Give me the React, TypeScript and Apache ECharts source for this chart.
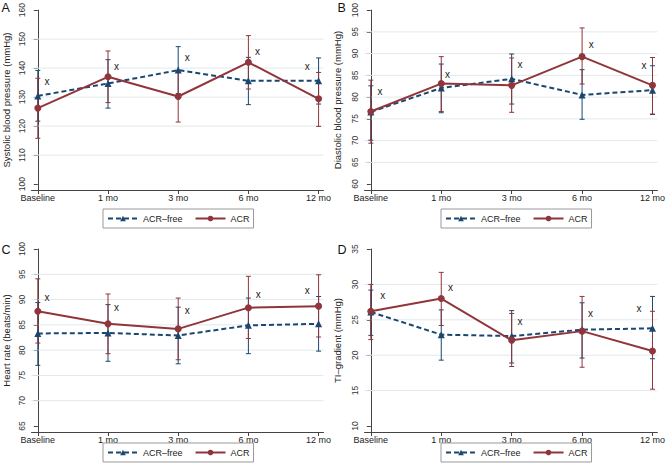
import React, { useEffect, useRef } from "react";
import * as echarts from "echarts";

const categories = ["Baseline", "1 mo", "3 mo", "6 mo", "12 mo"];
const catPos = [0, 1, 2, 3, 4];

// Panel A – systolic BP
const ticksA = [100, 110, 120, 130, 140, 150, 160];
const freeA = [130.4, 134.7, 139.3, 135.6, 135.6];
const freeLoA = [121.7, 126.2, 131.2, 127.4, 127.6];
const freeHiA = [139.2, 142.9, 147.4, 143.7, 143.5];
const acrA = [126.2, 137.0, 130.2, 142.0, 129.4];
const acrLoA = [115.8, 128.1, 121.4, 132.8, 119.9];
const acrHiA = [136.5, 145.9, 139.0, 151.2, 138.5];
const markXA = [0.13, 1.12, 2.13, 3.13, 3.84];
const markYA = [135.5, 140.5, 143.6, 145.7, 140.5];

// Panel B – diastolic BP
const ticksB = [60, 65, 70, 75, 80, 85, 90, 95, 100];
const freeB = [76.6, 82.1, 84.2, 80.5, 81.6];
const freeLoB = [70.1, 76.4, 78.4, 74.9, 76.0];
const freeHiB = [82.6, 87.6, 89.9, 86.3, 87.2];
const acrB = [76.7, 83.1, 82.7, 89.3, 82.7];
const acrLoB = [69.4, 76.7, 76.5, 83.0, 76.1];
const acrHiB = [83.9, 89.3, 89.0, 95.9, 89.1];
const markXB = [0.13, 1.09, 2.12, 3.13, 3.88];
const markYB = [81.2, 85.1, 87.4, 92.1, 87.2];

// Panel C – heart rate
const ticksC = [65, 70, 75, 80, 85, 90, 95, 100];
const freeC = [83.3, 83.4, 82.9, 84.9, 85.2];
const freeLoC = [77.0, 77.8, 77.3, 79.3, 79.8];
const freeHiC = [89.4, 89.0, 88.5, 90.3, 90.6];
const acrC = [87.7, 85.2, 84.2, 88.4, 88.7];
const acrLoC = [81.4, 79.3, 78.1, 82.3, 82.6];
const acrHiC = [94.1, 91.1, 90.3, 94.6, 94.9];
const markXC = [0.13, 1.12, 2.13, 3.14, 3.84];
const markYC = [90.5, 88.4, 87.9, 91.1, 91.7];

// Panel D – TI gradient
const ticksD = [10, 15, 20, 25, 30, 35];
const freeD = [26.1, 22.9, 22.7, 23.6, 23.8];
const freeLoD = [22.8, 19.3, 18.9, 19.6, 19.5];
const freeHiD = [29.2, 26.4, 26.3, 27.4, 28.3];
const acrD = [26.2, 28.0, 22.1, 23.4, 20.6];
const acrLoD = [22.2, 24.2, 18.4, 18.3, 15.2];
const acrHiD = [30.0, 31.7, 25.9, 28.3, 26.2];
const markXD = [0.17, 1.13, 2.12, 3.12, 3.81];
const markYD = [28.5, 29.6, 24.7, 25.9, 26.6];

const panelLetters = ["A", "B", "C", "D"];
const yTitles = [
  "Systolic blood pressure (mmHg)",
  "Diastolic blood pressure (mmHg)",
  "Heart rate (beats/min)",
  "TI\u2013gradient (mmHg)",
];
const seriesNames = ["ACR\u2013free", "ACR"];

const BLUE = "#1a476f";
const RED = "#90353b";
const FONT = "Liberation Sans, Arial, sans-serif";

type Panel = {
  ticks: number[];
  free: number[];
  freeLo: number[];
  freeHi: number[];
  acr: number[];
  acrLo: number[];
  acrHi: number[];
  markX: number[];
  markY: number[];
};

const panels: Panel[] = [
  { ticks: ticksA, free: freeA, freeLo: freeLoA, freeHi: freeHiA, acr: acrA, acrLo: acrLoA, acrHi: acrHiA, markX: markXA, markY: markYA },
  { ticks: ticksB, free: freeB, freeLo: freeLoB, freeHi: freeHiB, acr: acrB, acrLo: acrLoB, acrHi: acrHiB, markX: markXB, markY: markYB },
  { ticks: ticksC, free: freeC, freeLo: freeLoC, freeHi: freeHiC, acr: acrC, acrLo: acrLoC, acrHi: acrHiC, markX: markXC, markY: markYC },
  { ticks: ticksD, free: freeD, freeLo: freeLoD, freeHi: freeHiD, acr: acrD, acrLo: acrLoD, acrHi: acrHiD, markX: markXD, markY: markYD },
];

// layout
const gridLefts = [28.5, 364.5, 28.5, 364.5];
const gridTops = [7, 7, 249, 249];
const GRID_W = 295;
const GRID_H = 183;
const PLOT_SPAN = 177; // px between lowest and highest tick
const legendLefts = [103, 441, 103, 441];
const legendTops = [209, 209, 443, 443];
const nameGaps = [20.5, 22, 20.5, 22];

function errBar(color: string) {
  return (params: any, api: any) => {
    const x = api.value(0);
    const p1 = api.coord([x, api.value(1)]);
    const p2 = api.coord([x, api.value(2)]);
    const w = 2.5;
    const st = { stroke: color, lineWidth: 1 };
    return {
      type: "group",
      children: [
        { type: "line", shape: { x1: p1[0], y1: p1[1], x2: p2[0], y2: p2[1] }, style: st },
        { type: "line", shape: { x1: p1[0] - w, y1: p1[1], x2: p1[0] + w, y2: p1[1] }, style: st },
        { type: "line", shape: { x1: p2[0] - w, y1: p2[1], x2: p2[0] + w, y2: p2[1] }, style: st },
      ],
    };
  };
}

function gridLineRender(params: any, api: any) {
  const y = api.coord([0, api.value(1)])[1];
  const cs = params.coordSys;
  return {
    type: "line",
    shape: { x1: cs.x, y1: y, x2: cs.x + cs.width, y2: y },
    style: { stroke: "#e1e9eb", lineWidth: 1 },
  };
}

function markRender(params: any, api: any) {
  const p = api.coord([api.value(0), api.value(1)]);
  return {
    type: "text",
    x: p[0],
    y: p[1],
    style: {
      text: "x",
      fill: "#222",
      font: "10px " + FONT,
      align: "center",
      verticalAlign: "middle",
    },
  };
}

export default function App() {
  const ref = useRef<HTMLDivElement>(null);
  useEffect(() => {
    if (!ref.current) return;
    const chart = echarts.init(ref.current, null, { renderer: "svg" });

    const grids: any[] = [];
    const xAxes: any[] = [];
    const yAxes: any[] = [];
    const series: any[] = [];
    const legends: any[] = [];
    const graphics: any[] = [];

    panels.forEach((p, i) => {
      const lo = p.ticks[0];
      const hi = p.ticks[p.ticks.length - 1];
      const pxPerUnit = PLOT_SPAN / (hi - lo);
      const yMin = lo - 6 / pxPerUnit;
      grids.push({ left: gridLefts[i], top: gridTops[i], width: GRID_W, height: GRID_H });
      xAxes.push({
        gridIndex: i,
        type: "value",
        min: -0.09,
        max: 4.07,
        splitLine: { show: false },
        axisLine: { lineStyle: { color: "#444", width: 1 } },
        axisTick: { customValues: catPos, length: 4, lineStyle: { color: "#444" } },
        axisLabel: {
          customValues: catPos,
          formatter: (v: number) => categories[Math.round(v)],
          fontSize: 9,
          color: "#222",
          fontFamily: FONT,
          margin: 3,
        },
      });
      yAxes.push({
        gridIndex: i,
        type: "value",
        min: yMin,
        max: hi,
        name: yTitles[i],
        nameLocation: "middle",
        nameGap: nameGaps[i],
        nameTextStyle: { fontSize: 9.5, color: "#222", fontFamily: FONT },
        splitLine: { show: false },
        axisLine: { show: true, lineStyle: { color: "#444", width: 1 } },
        axisTick: { show: true, customValues: p.ticks, length: 4, lineStyle: { color: "#444" } },
        axisLabel: {
          customValues: p.ticks,
          rotate: 90,
          fontSize: 8.5,
          color: "#333",
          fontFamily: FONT,
          margin: 5,
        },
      });
      series.push({
        type: "custom",
        xAxisIndex: i,
        yAxisIndex: i,
        silent: true,
        z: 1,
        renderItem: gridLineRender,
        data: p.ticks.slice(1, -1).map((t) => [0, t]),
      });
      series.push({
        type: "custom",
        xAxisIndex: i,
        yAxisIndex: i,
        z: 2,
        renderItem: errBar(BLUE),
        data: catPos.map((x, k) => [x, p.freeLo[k], p.freeHi[k]]),
      });
      series.push({
        type: "custom",
        xAxisIndex: i,
        yAxisIndex: i,
        z: 2,
        renderItem: errBar(RED),
        data: catPos.map((x, k) => [x, p.acrLo[k], p.acrHi[k]]),
      });
      series.push({
        name: seriesNames[0],
        type: "line",
        xAxisIndex: i,
        yAxisIndex: i,
        z: 3,
        symbol: "triangle",
        symbolSize: 7,
        color: BLUE,
        itemStyle: { color: BLUE },
        lineStyle: { color: BLUE, width: 2, type: [5, 3] },
        data: catPos.map((x, k) => [x, p.free[k]]),
      });
      series.push({
        name: seriesNames[1],
        type: "line",
        xAxisIndex: i,
        yAxisIndex: i,
        z: 4,
        symbol: "circle",
        symbolSize: 7,
        color: RED,
        itemStyle: { color: RED },
        lineStyle: { color: RED, width: 2 },
        data: catPos.map((x, k) => [x, p.acr[k]]),
      });
      series.push({
        type: "custom",
        xAxisIndex: i,
        yAxisIndex: i,
        z: 5,
        silent: true,
        renderItem: markRender,
        data: p.markX.map((x, k) => [x, p.markY[k]]),
      });
      legends.push({
        left: legendLefts[i],
        top: legendTops[i],
        orient: "horizontal",
        data: seriesNames,
        itemWidth: 30,
        itemHeight: 7,
        itemGap: 12,
        padding: [5, 4],
        backgroundColor: "#fff",
        borderColor: "#999",
        borderWidth: 1,
        selectedMode: false,
        textStyle: { fontSize: 9, color: "#222", fontFamily: FONT },
      });
      graphics.push({
        type: "text",
        left: gridLefts[i] - 27,
        top: gridTops[i] - 6,
        style: { text: panelLetters[i], fontSize: 12.5, fill: "#111", font: "12.5px " + FONT },
      });
    });

    chart.setOption({
      animation: false,
      backgroundColor: "#fff",
      grid: grids,
      xAxis: xAxes,
      yAxis: yAxes,
      series,
      legend: legends,
      graphic: graphics,
    });
    return () => chart.dispose();
  }, []);
  return (
    <div
      ref={ref}
      style={{ position: "fixed", left: 0, top: 0, width: 668, height: 468, background: "#fff" }}
    />
  );
}
